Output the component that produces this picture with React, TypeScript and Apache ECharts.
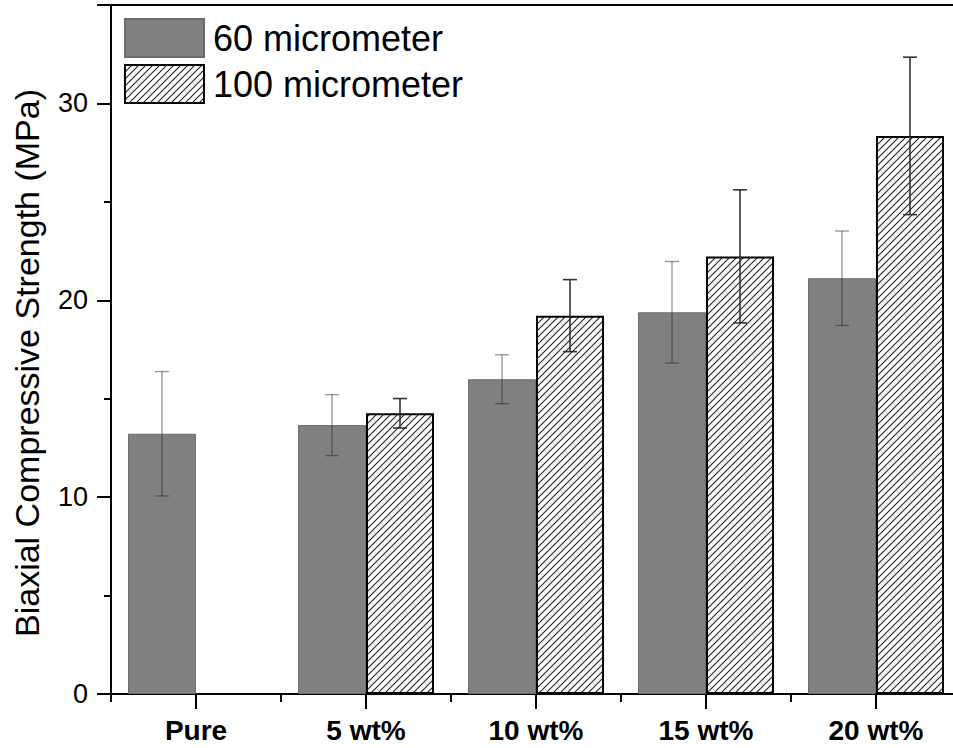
import React, { useEffect, useRef } from 'react';
import * as echarts from 'echarts';

const categories = ['Pure', '5 wt%', '10 wt%', '15 wt%', '20 wt%'];
const seriesNames = ['60 micrometer', '100 micrometer'];
const values60 = [13.22, 13.66, 15.99, 19.39, 21.12];
const errors60 = [3.16, 1.55, 1.24, 2.58, 2.4];
const values100: (number | null)[] = [null, 14.26, 19.22, 22.23, 28.35];
const errors100: (number | null)[] = [null, 0.75, 1.83, 3.38, 4.0];
const yMin = 0;
const yMax = 35;
const yInterval = 10;
const yTitle = 'Biaxial Compressive Strength (MPa)';

const FONT = "Arial, 'Liberation Sans', Helvetica, sans-serif";
const BAR_W = 68;

function makeHatch(): HTMLCanvasElement {
  const s = 7;
  const c = document.createElement('canvas');
  c.width = s;
  c.height = s;
  const ctx = c.getContext('2d')!;
  ctx.fillStyle = '#ffffff';
  ctx.fillRect(0, 0, s, s);
  ctx.strokeStyle = '#222222';
  ctx.lineWidth = 1.1;
  ctx.beginPath();
  ctx.moveTo(-1, s + 1);
  ctx.lineTo(s + 1, -1);
  ctx.moveTo(-1, 1);
  ctx.lineTo(1, -1);
  ctx.moveTo(s - 1, s + 1);
  ctx.lineTo(s + 1, s - 1);
  ctx.stroke();
  return c;
}

export default function App() {
  const ref = useRef<HTMLDivElement>(null);
  useEffect(() => {
    if (!ref.current) return;
    const chart = echarts.init(ref.current, undefined, { renderer: 'svg' });
    const hatch = makeHatch();

    const errData60 = values60.map((v, i) => [i, v, errors60[i]]);
    const errData100 = values100
      .map((v, i) => (v == null ? null : [i, v, errors100[i] as number]))
      .filter((d) => d != null) as number[][];

    const makeErr = (offset: number, color: string, width: number) =>
      function (params: any, api: any) {
        const idx = api.value(0);
        const v = api.value(1);
        const e = api.value(2);
        const x = api.coord([idx, v])[0] + offset;
        const yt = api.coord([idx, v + e])[1];
        const yb = api.coord([idx, v - e])[1];
        const cap = 7;
        const style = { stroke: color, lineWidth: width };
        return {
          type: 'group',
          children: [
            { type: 'line', shape: { x1: x, y1: yt, x2: x, y2: yb }, style },
            { type: 'line', shape: { x1: x - cap, y1: yt, x2: x + cap, y2: yt }, style },
            { type: 'line', shape: { x1: x - cap, y1: yb, x2: x + cap, y2: yb }, style },
          ],
        };
      };

    chart.setOption({
      animation: false,
      backgroundColor: '#ffffff',
      textStyle: { fontFamily: FONT },
      grid: { left: 111, top: 5, width: 850, height: 689, containLabel: false },
      legend: {
        data: seriesNames,
        orient: 'vertical',
        left: 124,
        top: 18,
        padding: 0,
        itemWidth: 79,
        itemHeight: 38,
        itemGap: 6,
        icon: 'rect',
        textStyle: { fontSize: 36, color: '#000', fontFamily: FONT, padding: [0, 0, 0, 4] },
        selectedMode: false,
      },
      graphic: [
        {
          type: 'text',
          x: 27,
          y: 363,
          rotation: Math.PI / 2,
          style: {
            text: yTitle,
            fontSize: 34,
            fontFamily: FONT,
            fill: '#000',
            align: 'center',
            verticalAlign: 'middle',
          },
        },
      ],
      xAxis: [
        {
          type: 'category',
          data: categories,
          position: 'bottom',
          boundaryGap: true,
          axisLine: { show: true, onZero: false, lineStyle: { color: '#000', width: 2 } },
          axisTick: { show: true, alignWithLabel: true, length: 15, lineStyle: { color: '#000', width: 2 } },
          axisLabel: { fontSize: 28, fontWeight: 'bold', color: '#000', margin: 22, fontFamily: FONT },
          splitLine: { show: false },
        },
        {
          type: 'category',
          data: categories,
          position: 'bottom',
          boundaryGap: true,
          axisLine: { show: false, onZero: false },
          axisTick: { show: true, alignWithLabel: false, length: 8, lineStyle: { color: '#000', width: 2 } },
          axisLabel: { show: false },
          splitLine: { show: false },
        },
        {
          type: 'category',
          data: categories,
          position: 'top',
          boundaryGap: true,
          axisLine: { show: true, onZero: false, lineStyle: { color: '#000', width: 2 } },
          axisTick: { show: false },
          axisLabel: { show: false },
          splitLine: { show: false },
        },
      ],
      yAxis: {
        type: 'value',
        min: yMin,
        max: yMax,
        interval: yInterval,
        axisLine: { show: true, onZero: false, lineStyle: { color: '#000', width: 2 } },
        axisTick: { show: true, length: 14, lineStyle: { color: '#000', width: 2 } },
        minorTick: { show: true, splitNumber: 2, length: 7, lineStyle: { color: '#000', width: 2 } },
        axisLabel: {
          fontSize: 27,
          color: '#000',
          margin: 23,
          fontFamily: FONT,
          formatter: (v: number) => (v % 10 === 0 && v <= 30 ? String(v) : ''),
        },
        splitLine: { show: false },
      },
      series: [
        {
          name: seriesNames[0],
          type: 'bar',
          xAxisIndex: 0,
          yAxisIndex: 0,
          data: values60,
          barWidth: BAR_W,
          barGap: '0%',
          itemStyle: { color: '#808080', borderColor: '#6c6c6c', borderWidth: 1 },
          z: 2,
        },
        {
          name: seriesNames[1],
          type: 'bar',
          xAxisIndex: 0,
          yAxisIndex: 0,
          data: values100.map((v) => (v == null ? '-' : v)),
          barWidth: BAR_W,
          barGap: '0%',
          itemStyle: {
            color: { image: hatch, repeat: 'repeat' },
            borderColor: '#000',
            borderWidth: 2,
          },
          z: 2,
        },
        {
          type: 'custom',
          xAxisIndex: 0,
          yAxisIndex: 0,
          data: errData60,
          renderItem: makeErr(-BAR_W / 2, 'rgba(40,40,40,0.5)', 1.3),
          z: 5,
          silent: true,
        },
        {
          type: 'custom',
          xAxisIndex: 0,
          yAxisIndex: 0,
          data: errData100,
          renderItem: makeErr(BAR_W / 2, '#333333', 1.6),
          z: 5,
          silent: true,
        },
      ],
    });
    return () => chart.dispose();
  }, []);
  return (
    <div style={{ position: 'absolute', left: 0, top: 0, width: 953, height: 748, overflow: 'hidden' }}>
      <div ref={ref} style={{ position: 'absolute', left: 0, top: 0, width: 975, height: 748 }} />
    </div>
  );
}
